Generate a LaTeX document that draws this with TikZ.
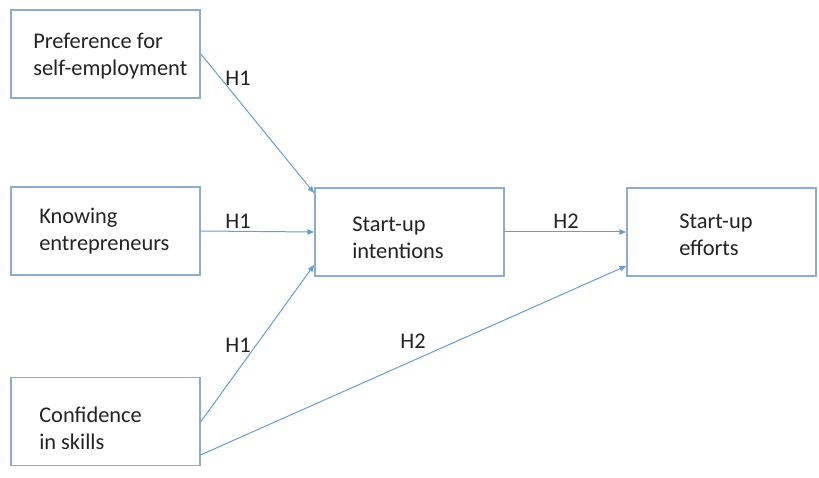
\documentclass[tikz,border=0pt]{standalone}
\usepackage{fontspec}
\setmainfont{Carlito}
\usetikzlibrary{arrows.meta}
\definecolor{boxc}{RGB}{140,172,208}
\definecolor{arrc}{RGB}{100,160,215}
\definecolor{txtc}{RGB}{35,35,35}
\begin{document}
\begin{tikzpicture}[x=0.75pt,y=-0.75pt,
  box/.style={draw=boxc,line width=1.1pt,rectangle,inner sep=0pt,minimum width=142pt,minimum height=66pt},
  lbl/.style={anchor=west,align=left,font=\fontsize{16.8}{20.2}\selectfont,text=txtc,inner sep=0pt},
  hyp/.style={font=\fontsize{16.8}{19}\selectfont,text=txtc,inner sep=0pt},
  conn/.style={draw=arrc,line width=0.75pt,-{Triangle[length=5pt,width=4pt]}}]
\useasboundingbox (0,0) rectangle (819,478);
\node[box] (pref) at (105.5,54) {};
\node[box] (know) at (105.5,231) {};
\node[box] (conf) at (105.5,421.5) {};
\node[box] (int) at (409.5,232) {};
\node[box] (eff) at (721.5,232) {};
\node[lbl] (preft) at (33,56) {Preference for\\self-employment};
\node[lbl] (knowt) at (39,231) {Knowing\\entrepreneurs};
\node[lbl] (conft) at (39,428) {Confidence\\in skills};
\node[lbl] (intt) at (352,238) {Start-up\\intentions};
\node[lbl] (efft) at (679,235) {Start-up\\efforts};
\draw[conn] (pref.east) -- ([yshift=29.25pt]int.west);
\draw[conn] (know.east) -- (int.west);
\draw[conn] (conf.east) -- ([yshift=-24.75pt]int.west);
\draw[conn] (int.east) -- (eff.west);
\draw[conn] ([yshift=-25pt]conf.east) -- ([yshift=-25.5pt]eff.west);
\node[hyp] (h1a) at (238,78) {H1};
\node[hyp] (h1b) at (238,221) {H1};
\node[hyp] (h1c) at (238,345) {H1};
\node[hyp] (h2a) at (566,221) {H2};
\node[hyp] (h2b) at (413,341) {H2};
\end{tikzpicture}
\end{document}
